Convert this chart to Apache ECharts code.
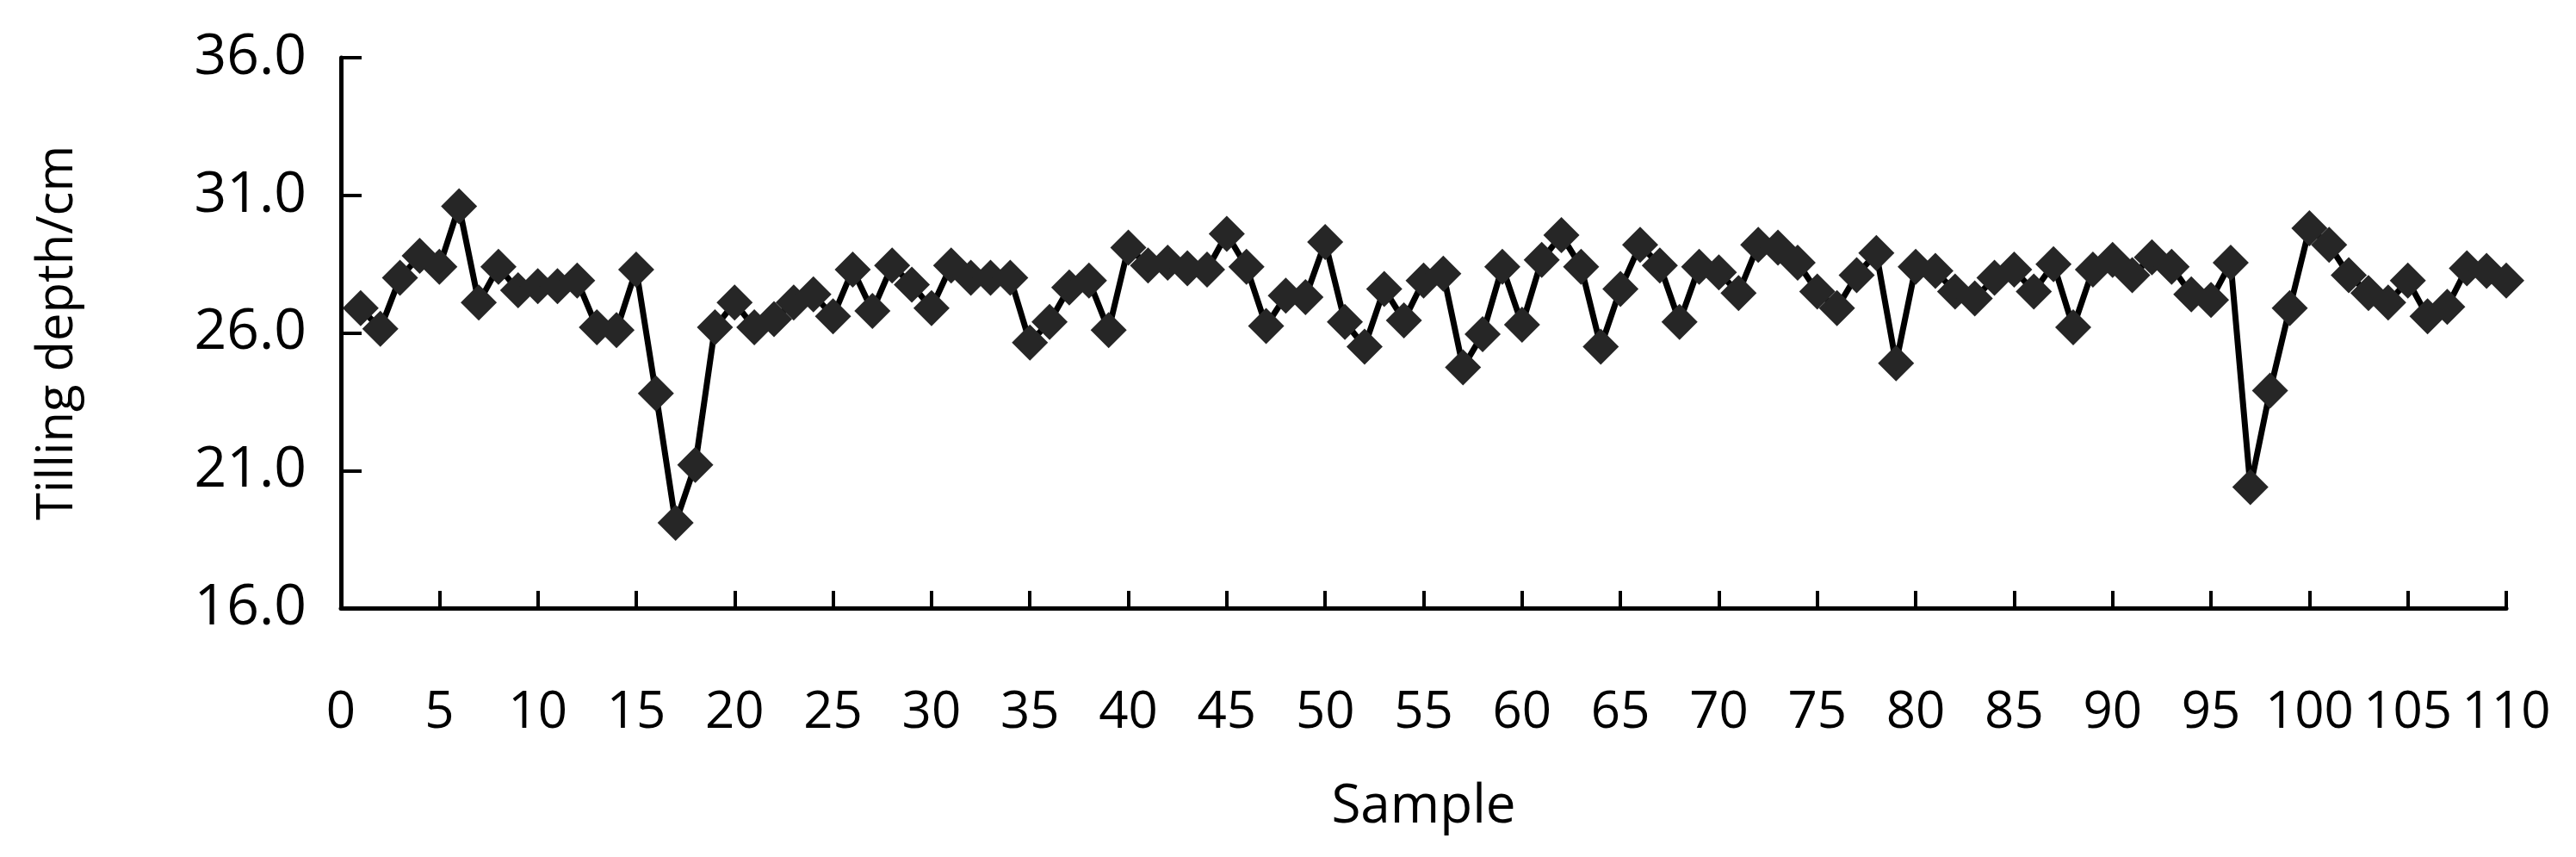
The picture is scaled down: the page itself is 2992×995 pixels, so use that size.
<!DOCTYPE html>
<html>
<head>
<meta charset="utf-8">
<script src="https://cdn.jsdelivr.net/npm/echarts@6/dist/echarts.min.js"></script>
<style>html,body{margin:0;padding:0;background:#fff}#chart{width:2992px;height:995px}</style>
</head>
<body>
<div id="chart"></div>
<script>
// 耕深数据（样本序号 1..110）
const depthValues = [
    26.9, 26.15, 28.0, 28.8, 28.4, 30.6, 27.1, 28.4, 27.55, 27.7,
    27.7, 27.9, 26.2, 26.1, 28.3, 23.8, 19.1, 21.2, 26.2, 27.1,
    26.2, 26.5, 27.1, 27.4, 26.6, 28.3, 26.8, 28.45, 27.75, 26.9,
    28.45, 28.0, 28.0, 28.0, 25.65, 26.4, 27.65, 27.9, 26.1, 29.1,
    28.45, 28.55, 28.35, 28.3, 29.6, 28.4, 26.25, 27.35, 27.3, 29.3,
    26.4, 25.5, 27.6, 26.45, 27.9, 28.15, 24.75, 25.95, 28.4, 26.3,
    28.65, 29.55, 28.4, 25.5, 27.6, 29.2, 28.45, 26.4, 28.4, 28.2,
    27.45, 29.2, 29.1, 28.55, 27.5, 26.9, 28.1, 28.9, 24.9, 28.4,
    28.25, 27.5, 27.25, 28.0, 28.3, 27.5, 28.5, 26.2, 28.3, 28.65,
    28.1, 28.75, 28.4, 27.4, 27.2, 28.55, 20.4, 23.9, 26.9, 29.8,
    29.2, 28.1, 27.45, 27.1, 27.9, 26.6, 26.95, 28.35, 28.25, 27.9
];
const xName = 'Sample';
const yName = 'Tilling depth/cm';

let points = depthValues.map(function(v, i) { return [i + 1, v]; });

let myChart = echarts.init(document.getElementById('chart'));
let font = 'Open Sans';
let option = {
    animation: false,
    grid: { left: 396, right: 81, top: 67, bottom: 289 },
    xAxis: {
        type: 'value', min: 0, max: 110, interval: 5,
        name: xName, nameLocation: 'middle', nameGap: 200,
        nameTextStyle: { fontFamily: font, fontSize: 62, color: '#000' },
        axisLine: { lineStyle: { color: '#000', width: 5 } },
        axisTick: { inside: true, length: 20, lineStyle: { color: '#000', width: 4 } },
        axisLabel: { fontFamily: font, fontSize: 60, color: '#000', margin: 92 },
        splitLine: { show: false }
    },
    yAxis: {
        type: 'value', min: 16, max: 36, interval: 5,
        name: yName, nameLocation: 'middle', nameGap: 300,
        nameTextStyle: { fontFamily: font, fontSize: 58, color: '#000' },
        axisLine: { show: true, lineStyle: { color: '#000', width: 5 } },
        axisTick: { show: true, inside: true, length: 24, lineStyle: { color: '#000', width: 4 } },
        axisLabel: { fontFamily: font, fontSize: 66, color: '#000', margin: 40,
            formatter: function(v) { return v.toFixed(1); } },
        splitLine: { show: false }
    },
    series: [{
        type: 'line',
        data: points,
        symbol: 'diamond',
        symbolSize: 42,
        lineStyle: { color: '#000', width: 7 },
        itemStyle: { color: '#262626' }
    }]
};
myChart.setOption(option);
</script>
</body>
</html>
